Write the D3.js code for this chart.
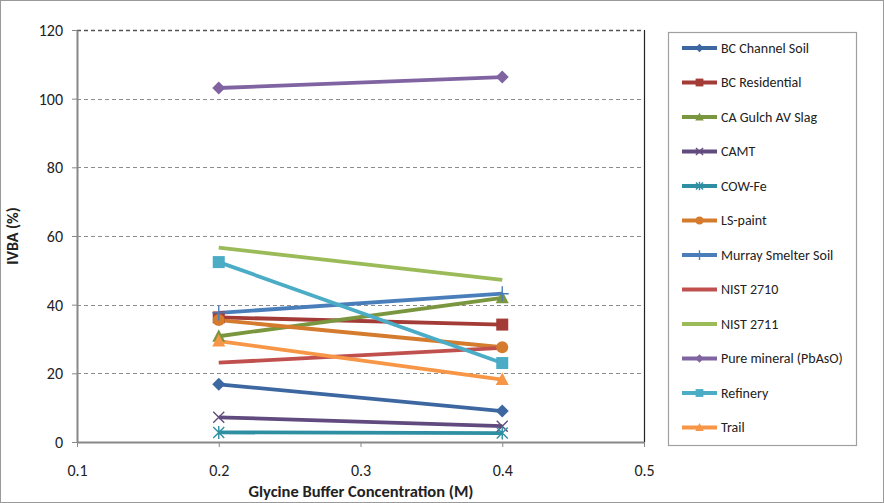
<!DOCTYPE html>
<html>
<head>
<meta charset="utf-8">
<script src="https://cdn.jsdelivr.net/npm/d3@7"></script>
<style>
  body { margin: 0; background: #fff; }
  text { font-family: Calibri, Carlito, Lato, "Liberation Sans", "DejaVu Sans", sans-serif; }
</style>
</head>
<body>
<svg id="chart" width="884" height="503"></svg>
<script>
// ---- data ----
const concentrations = [0.2, 0.4];
const seriesNames = [
  "BC Channel Soil", "BC Residential", "CA Gulch AV Slag", "CAMT", "COW-Fe", "LS-paint",
  "Murray Smelter Soil", "NIST 2710", "NIST 2711", "Pure mineral (PbAsO)", "Refinery", "Trail"
];
const bcChannelSoil = [16.8, 9.0];
const bcResidential = [36.3, 34.2];
const caGulch = [30.8, 42.0];
const camt = [7.2, 4.6];
const cowFe = [2.8, 2.6];
const lsPaint = [35.5, 27.6];
const murraySmelter = [37.6, 43.2];
const nist2710 = [23.1, 27.4];
const nist2711 = [56.6, 47.2];
const pureMineral = [103.1, 106.3];
const refinery = [52.4, 23.0];
const trail = [29.4, 18.2];
const seriesValues = [bcChannelSoil, bcResidential, caGulch, camt, cowFe, lsPaint,
  murraySmelter, nist2710, nist2711, pureMineral, refinery, trail];
const colors = ["#3D67A1", "#A33B37", "#7A963F", "#614A7E", "#2E8FA3", "#D47B2E",
  "#4A7EBB", "#C0504D", "#9BBB59", "#8064A2", "#4BACC6", "#F79646"];
const markers = ["diamond", "square", "triangle", "x", "asterisk", "circle",
  "plus", "none", "none", "diamond", "square", "triangle"];
const xTicks = [0.1, 0.2, 0.3, 0.4, 0.5];
const yTicks = [0, 20, 40, 60, 80, 100, 120];

// ---- layout ----
const svg = d3.select("#chart");
const L = 77, R = 644, T = 30, B = 442;
const x = d3.scaleLinear().domain([0.1, 0.5]).range([L, R]);
const y = d3.scaleLinear().domain([0, 120]).range([B, T]);

// outer border
svg.append("rect").attr("x", 0.5).attr("y", 0.5).attr("width", 883).attr("height", 502)
  .attr("fill", "#fff").attr("stroke", "#9a9a9a").attr("stroke-width", 1);

// gridlines
svg.append("g").selectAll("line").data(yTicks.filter(d => d > 0)).join("line")
  .attr("x1", L).attr("x2", R)
  .attr("y1", d => Math.round(y(d)) + 0.5).attr("y2", d => Math.round(y(d)) + 0.5)
  .attr("stroke", d => d === 120 ? "#555" : "#8c8c8c")
  .attr("stroke-width", d => d === 120 ? 1.5 : 1)
  .attr("stroke-dasharray", "4,3");

// right border of plot area
svg.append("line").attr("x1", R + 0.5).attr("x2", R + 0.5).attr("y1", T).attr("y2", B)
  .attr("stroke", "#222").attr("stroke-width", 1.2);

// axes
const xAxis = d3.axisBottom(x).tickValues(xTicks).tickFormat(d3.format(".1f")).tickSizeInner(5).tickSizeOuter(0);
const yAxis = d3.axisLeft(y).tickValues(yTicks).tickFormat(d3.format("d")).tickSizeInner(5).tickSizeOuter(0);
const gx = svg.append("g").attr("transform", `translate(0,${B})`).call(xAxis);
const gy = svg.append("g").attr("transform", `translate(${L},0)`).call(yAxis);
[gx, gy].forEach(g => {
  g.select(".domain").attr("stroke", "#888").attr("stroke-width", 2);
  g.selectAll(".tick line").attr("stroke", "#888").attr("stroke-width", 1);
  g.selectAll(".tick text").attr("fill", "#222").style("font-size", "16px");
});
gx.selectAll(".tick text").attr("dy", "0").attr("y", 34);
gy.selectAll(".tick text").attr("x", -14).attr("dy", "0.35em");

// axis titles
svg.append("text").attr("x", 361).attr("y", 497).attr("text-anchor", "middle")
  .style("font-size", "16.5px").style("font-weight", "bold").attr("fill", "#222")
  .text("Glycine Buffer Concentration (M)");
svg.append("text").attr("transform", "translate(18,236) rotate(-90)").attr("text-anchor", "middle")
  .style("font-size", "16px").style("font-weight", "bold").attr("fill", "#222")
  .text("IVBA (%)");

// marker drawing
function drawMarker(g, type, cx, cy, color, s) {
  const k = s / 10;
  if (type === "diamond") {
    g.append("path").attr("d", `M${cx},${cy - 6.5*k}L${cx + 6.5*k},${cy}L${cx},${cy + 6.5*k}L${cx - 6.5*k},${cy}Z`).attr("fill", color);
  } else if (type === "square") {
    g.append("rect").attr("x", cx - 6*k).attr("y", cy - 6*k).attr("width", 12*k).attr("height", 12*k).attr("fill", color);
  } else if (type === "triangle") {
    g.append("path").attr("d", `M${cx},${cy - 7*k}L${cx + 6.5*k},${cy + 5.5*k}L${cx - 6.5*k},${cy + 5.5*k}Z`).attr("fill", color);
  } else if (type === "circle") {
    g.append("circle").attr("cx", cx).attr("cy", cy).attr("r", 6*k).attr("fill", color);
  } else if (type === "x") {
    g.append("path").attr("d", `M${cx - 5.5*k},${cy - 5.5*k}L${cx + 5.5*k},${cy + 5.5*k}M${cx - 5.5*k},${cy + 5.5*k}L${cx + 5.5*k},${cy - 5.5*k}`)
      .attr("stroke", color).attr("stroke-width", 1.4).attr("fill", "none");
  } else if (type === "asterisk") {
    g.append("path").attr("d", `M${cx - 5.5*k},${cy - 5.5*k}L${cx + 5.5*k},${cy + 5.5*k}M${cx - 5.5*k},${cy + 5.5*k}L${cx + 5.5*k},${cy - 5.5*k}M${cx},${cy - 6.5*k}L${cx},${cy + 6.5*k}`)
      .attr("stroke", color).attr("stroke-width", 1.4).attr("fill", "none");
  } else if (type === "plus") {
    g.append("path").attr("d", `M${cx - 6.5*k},${cy}L${cx + 6.5*k},${cy}M${cx},${cy - 7.5*k}L${cx},${cy + 7.5*k}`)
      .attr("stroke", color).attr("stroke-width", 1.4).attr("fill", "none");
  }
}

// series
const line = d3.line().x(d => x(d[0])).y(d => y(d[1]));
const plot = svg.append("g");
seriesNames.forEach((name, i) => {
  const pts = concentrations.map((c, j) => [c, seriesValues[i][j]]);
  plot.append("path").datum(pts).attr("d", line).attr("fill", "none")
    .attr("stroke", colors[i]).attr("stroke-width", 3.8);
});
seriesNames.forEach((name, i) => {
  concentrations.forEach((c, j) => {
    drawMarker(plot, markers[i], x(c), y(seriesValues[i][j]), colors[i], 10);
  });
});

// legend
const lg = svg.append("g");
lg.append("rect").attr("x", 668.5).attr("y", 32.5).attr("width", 188).attr("height", 413)
  .attr("fill", "#fff").attr("stroke", "#a0a0a0").attr("stroke-width", 1.2);
seriesNames.forEach((name, i) => {
  const ly = 48 + i * 34.5;
  lg.append("line").attr("x1", 682).attr("x2", 717).attr("y1", ly).attr("y2", ly)
    .attr("stroke", colors[i]).attr("stroke-width", 3.8);
  drawMarker(lg, markers[i], 699.5, ly, colors[i], 6.5);
  lg.append("text").attr("x", 721).attr("y", ly).attr("dy", "0.35em")
    .style("font-size", "14px").attr("fill", "#222").text(name);
});
</script>
</body>
</html>
